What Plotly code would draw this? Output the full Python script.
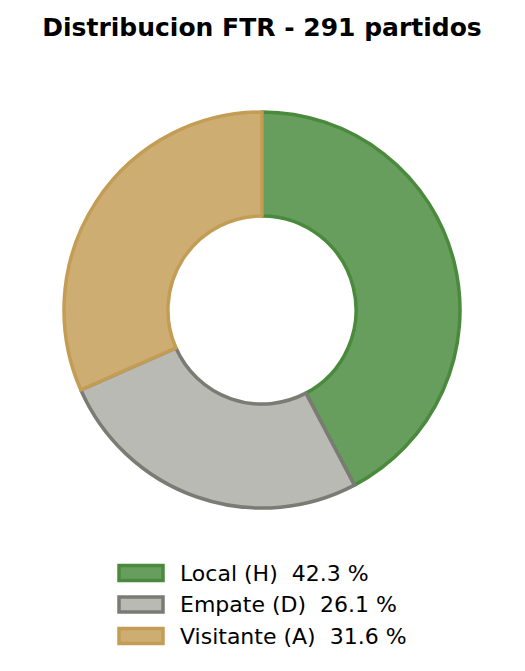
import plotly.graph_objects as go

# Resultados FTR (Full Time Result)
labels = ["Local (H)", "Empate (D)", "Visitante (A)"]
counts = [123, 76, 92]
total_partidos = 291

fill_colors = ["#679e5e", "#b8bab3", "#cdad72"]
edge_colors = ["#4a8a3c", "#7a7c74", "#c49d55"]

W, H = 525, 671
OFF = 8  # page body margin
pct = [100 * c / sum(counts) for c in counts]


def px_x(x):
    return (x - OFF) / W


def px_y(y):
    return (H - (y - OFF)) / H


fig = go.Figure(go.Pie(
    labels=labels,
    values=counts,
    hole=0.475,
    sort=False,
    direction="clockwise",
    rotation=0,
    textinfo="none",
    marker=dict(colors=fill_colors, line=dict(color=edge_colors, width=3.5)),
    domain=dict(x=[px_x(64), px_x(460)], y=[px_y(508), px_y(112)]),
    showlegend=False,
))

# legend drawn by hand, matplotlib style boxes
shapes = []
annotations = []
for i, (lab, p) in enumerate(zip(labels, pct)):
    yc = 573 + i * 31.5
    shapes.append(dict(
        type="rect", xref="paper", yref="paper",
        x0=px_x(119), x1=px_x(163),
        y0=px_y(yc + 7.5), y1=px_y(yc - 7.5),
        fillcolor=fill_colors[i], line=dict(color=edge_colors[i], width=3.5),
    ))
    annotations.append(dict(
        x=px_x(178), y=px_y(yc), xref="paper", yref="paper",
        xanchor="left", yanchor="middle", showarrow=False,
        text=f"{lab}&nbsp;&nbsp;{p:.1f} %",
        font=dict(size=22, color="black"),
    ))

fig.update_layout(
    width=W, height=H,
    margin=dict(l=0, r=0, t=0, b=0),
    paper_bgcolor="white",
    plot_bgcolor="white",
    font=dict(family="DejaVu Sans"),
    title=dict(
        text=f"<b>Distribucion FTR - {total_partidos} partidos</b>",
        x=px_x(262), xanchor="center", y=px_y(27), yanchor="middle",
        font=dict(size=25, color="black"),
    ),
    shapes=shapes,
    annotations=annotations,
)

fig.write_html("out.html")
